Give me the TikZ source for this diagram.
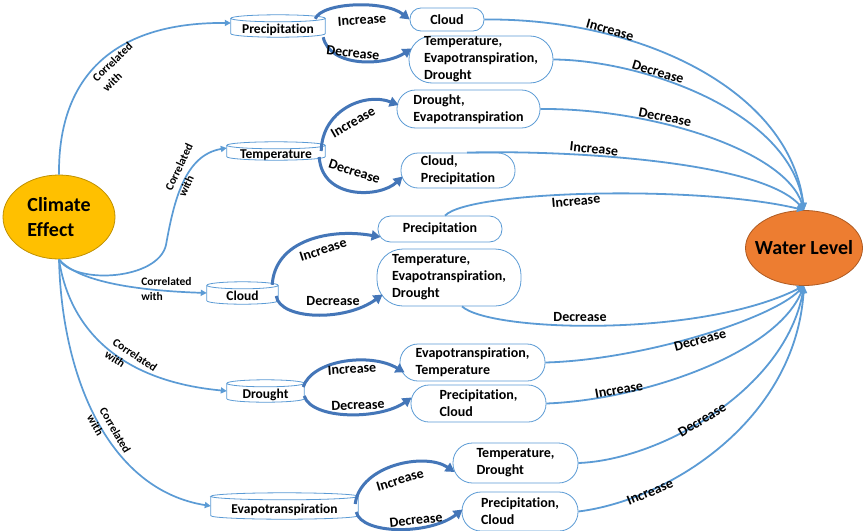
\documentclass[tikz,border=0pt]{standalone}
\usepackage{fontspec}
\setmainfont{Carlito}[Ligatures=NoCommon]
\usetikzlibrary{arrows.meta,calc,shapes.geometric}
\definecolor{lineblue}{RGB}{91,155,213}
\definecolor{arrowblue}{RGB}{68,118,184}
\definecolor{climatefill}{RGB}{255,192,0}
\definecolor{climatedraw}{RGB}{191,144,0}
\definecolor{waterfill}{RGB}{237,125,49}
\definecolor{waterdraw}{RGB}{174,90,33}
\newcommand\drum[1]{%
  \draw[drumline] let \p1=(#1.north west), \p2=(#1.south east), \n1={(\x2-\x1)/2} in
    (\x1,\y1-3.5pt) -- (\x1,\y2+3.5pt) arc[start angle=180,end angle=360,x radius=\n1,y radius=3.5pt] -- (\x2,\y1-3.5pt)
    ([yshift=-3.5pt]#1.north) ellipse[x radius=\n1,y radius=3.5pt];}
\begin{document}
\begin{tikzpicture}[x=1pt,y=-1pt,
  bigell/.style={ellipse, line width=0.8pt, inner xsep=-10pt, inner ysep=-5pt, align=left, font=\fontsize{20}{25}\selectfont\bfseries},
  box/.style={draw=lineblue, line width=0.8pt, align=left, inner sep=0pt, font=\fontsize{14}{17}\selectfont\bfseries},
  drumnode/.style={inner sep=0pt, text height=15pt, text depth=0pt, font=\fontsize{13.5}{16}\selectfont\bfseries},
  drumline/.style={draw=lineblue, line width=0.8pt},
  corr/.style={draw=lineblue, line width=1.7pt, -{Triangle[length=6pt,width=6pt]}},
  corrlab/.style={align=left, inner sep=0pt, font=\fontsize{11.5}{14.5}\selectfont\bfseries},
  effect/.style={draw=arrowblue, line width=3pt, -{Triangle[length=9pt,width=10pt]}},
  toward/.style={draw=lineblue, line width=1.8pt, -{Triangle[length=7pt,width=7pt]}},
  lab/.style={inner sep=0pt, font=\fontsize{14}{17}\selectfont\bfseries}]
\fill[white] (0,0) rectangle (864,530);
\useasboundingbox (0,0) rectangle (864,530);

% main ellipses
\node[bigell, fill=climatefill, draw=climatedraw, minimum width=112pt, minimum height=84pt] (ce) at (59,217) {Climate\\Effect};
\node[bigell, fill=waterfill, draw=waterdraw, minimum width=117pt, minimum height=75pt] (wl) at (804,248) {Water Level};

% cylinders
\node[drumnode, minimum width=94pt, minimum height=22pt] (cp) at (278,26) {Precipitation};
\node[drumnode, minimum width=98pt, minimum height=18pt] (ct) at (276,151) {Temperature};
\node[drumnode, minimum width=71pt, minimum height=22pt] (cc) at (242.5,293) {Cloud};
\node[drumnode, minimum width=77pt, minimum height=22pt] (cd) at (265.5,391) {Drought};
\node[drumnode, minimum width=147pt, minimum height=26pt] (cev) at (284.5,506) {Evapotranspiration};
\drum{cp}\drum{ct}\drum{cc}\drum{cd}\drum{cev}

% result boxes
\node[box, minimum width=74pt, minimum height=23pt, rounded corners=11pt] (b1) at (447,19.5) {Cloud};
\node[box, minimum width=144pt, minimum height=47pt, rounded corners=23pt] (b2) at (481,59.5) {Temperature,\\Evapotranspiration,\\Drought};
\node[box, minimum width=143pt, minimum height=38pt, rounded corners=18.5pt] (b3) at (468.5,109) {Drought,\\Evapotranspiration};
\node[box, minimum width=114pt, minimum height=35pt, rounded corners=17pt] (b4) at (458,170.5) {Cloud,\\Precipitation};
\node[box, minimum width=124pt, minimum height=26pt, rounded corners=12.5pt] (b5) at (440,229) {Precipitation};
\node[box, minimum width=144pt, minimum height=57pt, rounded corners=26pt] (b6) at (449,277.5) {Temperature,\\Evapotranspiration,\\Drought};
\node[box, minimum width=145pt, minimum height=37pt, rounded corners=18pt] (b7) at (472.5,362.5) {Evapotranspiration,\\Temperature};
\node[box, minimum width=135pt, minimum height=37pt, rounded corners=18pt] (b8) at (478.5,403.5) {Precipitation,\\Cloud};
\node[box, minimum width=125pt, minimum height=40pt, rounded corners=19.5pt] (b9) at (515.5,463) {Temperature,\\Drought};
\node[box, minimum width=116pt, minimum height=39pt, rounded corners=19pt] (b10) at (520,511.5) {Precipitation,\\Cloud};

% correlated connectors
\draw[corr] (ce.north) .. controls (58,80) and (110,22) .. ([yshift=3pt]cp.west);
\draw[corr] (ce.south) .. controls (75,285) and (158,280) .. (166,245) .. controls (174,200) and (185,155) .. ([yshift=3pt]ct.west);
\draw[corr] (ce.south) .. controls (75,278) and (120,290) .. (cc.west);
\draw[corr] (ce.south) .. controls (68,320) and (110,380) .. (cd.west);
\draw[corr] (ce.south) .. controls (62,380) and (110,490) .. (cev.west);
\node[corrlab, rotate=44] (k1) at (117.5,67) {Correlated\\with};
\node[corrlab, rotate=65] (k2) at (185.5,170) {Correlated\\with};
\node[corrlab] (k3) at (166.5,289) {Correlated\\with};
\node[corrlab, rotate=-34] (k4) at (131,361) {Correlated\\with};
\node[corrlab, rotate=-60] (k5) at (109,434) {Correlated\\with};

% increase / decrease effect arrows
\draw[effect] ([shift={(-10pt,-4pt)}]cp.north east) .. controls (322,2) and (385,0) .. (b1.west);
\draw[effect] ([xshift=-2pt]cp.south east) .. controls (330,68) and (385,66) .. ([shift={(3pt,11pt)}]b2.west);
\draw[effect] ([xshift=-4pt]ct.east) .. controls (322,110) and (365,92) .. ([shift={(2pt,4pt)}]b3.west);
\draw[effect] ([shift={(-6pt,-6pt)}]ct.east) .. controls (322,200) and (380,198) .. ([shift={(2pt,-6pt)}]b4.west);
\draw[effect] ([shift={(-6pt,-3pt)}]cc.north east) .. controls (275,240) and (330,228) .. ([shift={(3pt,-8pt)}]b5.west);
\draw[effect] ([shift={(-2pt,-3pt)}]cc.east) .. controls (280,320) and (345,322) .. ([shift={(6pt,-17pt)}]b6.west);
\draw[effect] ([shift={(-1pt,4pt)}]cd.east) .. controls (312,360) and (370,352) .. ([shift={(5pt,-10pt)}]b7.west);
\draw[effect] ([shift={(0pt,-5pt)}]cd.east) .. controls (312,420) and (380,420) .. ([shift={(1pt,6pt)}]b8.west);
\draw[effect] ([shift={(-3pt,2pt)}]cev.east) .. controls (360,465) and (425,452) .. ([shift={(2pt,-9pt)}]b9.west);
\draw[effect] ([shift={(-2pt,-6pt)}]cev.east) .. controls (362,535) and (430,535) .. ([shift={(1pt,2pt)}]b10.west);
\node[lab, rotate=4] (e1) at (362,20) {Increase};
\node[lab, rotate=-6] (e2) at (353,53) {Decrease};
\node[lab, rotate=30] (e3) at (353,122) {Increase};
\node[lab, rotate=-18] (e4) at (354.5,171.5) {Decrease};
\node[lab, rotate=18] (e5) at (323,250) {Increase};
\node[lab] (e6) at (333,301) {Decrease};
\node[lab, rotate=4] (e7) at (352,369) {Increase};
\node[lab, rotate=2] (e8) at (358,405) {Decrease};
\node[lab, rotate=17] (e9) at (400,480) {Increase};
\node[lab, rotate=6] (e10) at (416,520) {Decrease};

% connectors to water level
\draw[toward] (b1.east) .. controls (640,18) and (790,90) .. (wl.north);
\draw[toward] (b2.east) .. controls (640,60) and (790,110) .. (wl.north);
\draw[toward] (b3.east) .. controls (650,108) and (785,150) .. (wl.north);
\draw[toward] ([xshift=9pt]b4.north) .. controls (560,150) and (760,160) .. (wl.north);
\draw[toward] ([xshift=5pt]b5.north) .. controls (470,190) and (700,185) .. (wl.north);
\draw[toward] ([xshift=13pt]b6.south) .. controls (490,332) and (700,338) .. (wl.south);
\draw[toward] (b7.east) .. controls (640,360) and (770,320) .. (wl.south);
\draw[toward] (b8.east) .. controls (640,400) and (775,355) .. (wl.south);
\draw[toward] (b9.east) .. controls (660,460) and (785,390) .. (wl.south);
\draw[toward] (b10.east) .. controls (670,500) and (795,420) .. (wl.south);
\node[lab, rotate=-16] (w1) at (610,30) {Increase};
\node[lab, rotate=-17] (w2) at (658,72) {Decrease};
\node[lab, rotate=-11] (w3) at (665,117) {Decrease};
\node[lab, rotate=-6] (w4) at (594,149) {Increase};
\node[lab, rotate=5] (w5) at (576,201) {Increase};
\node[lab] (w6) at (580,317) {Decrease};
\node[lab, rotate=15] (w7) at (700,340) {Decrease};
\node[lab, rotate=10] (w8) at (619,390) {Increase};
\node[lab, rotate=31] (w9) at (702,420) {Decrease};
\node[lab, rotate=22] (w10) at (650,492) {Increase};
\end{tikzpicture}
\end{document}
